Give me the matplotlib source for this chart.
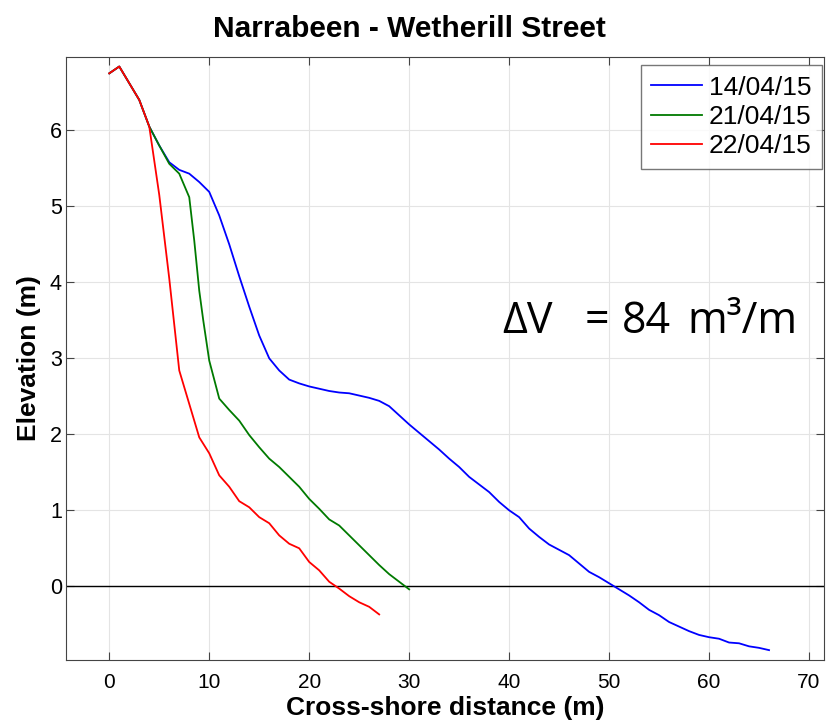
import matplotlib
matplotlib.use("Agg")
import matplotlib.pyplot as plt

# profile data (cross-shore distance m, elevation m)
x_140415 = [0, 1, 2, 3, 4, 5, 6, 7, 8, 9, 10, 11, 12, 13, 14, 15, 16, 17, 18, 19,
            20, 21, 22, 23, 24, 25, 26, 27, 28, 29, 30, 31, 32, 33, 34, 35, 36, 37,
            38, 39, 40, 41, 42, 43, 44, 45, 46, 47, 48, 49, 50, 51, 52, 53, 54, 55,
            56, 57, 58, 59, 60, 61, 62, 63, 64, 65, 66]
z_140415 = [6.75, 6.84, 6.62, 6.40, 6.05, 5.80, 5.58, 5.48, 5.43, 5.32, 5.19, 4.88,
            4.50, 4.08, 3.68, 3.30, 3.00, 2.84, 2.72, 2.67, 2.63, 2.60, 2.57, 2.55,
            2.54, 2.51, 2.48, 2.44, 2.37, 2.25, 2.13, 2.02, 1.91, 1.80, 1.68, 1.57,
            1.44, 1.34, 1.24, 1.11, 1.00, 0.91, 0.76, 0.65, 0.55, 0.48, 0.41, 0.30,
            0.19, 0.12, 0.04, -0.04, -0.12, -0.21, -0.31, -0.38, -0.47, -0.53, -0.59,
            -0.64, -0.67, -0.69, -0.74, -0.75, -0.79, -0.81, -0.84]

x_210415 = [0, 1, 2, 3, 4, 5, 6, 7, 8, 8.5, 9, 9.4, 10, 11, 12, 13, 14, 15, 16, 17,
            18, 19, 20, 21, 22, 23, 24, 25, 26, 27, 28, 29, 30]
z_210415 = [6.75, 6.84, 6.62, 6.40, 6.05, 5.80, 5.56, 5.43, 5.12, 4.55, 3.89, 3.50,
            2.97, 2.47, 2.32, 2.18, 1.99, 1.83, 1.68, 1.57, 1.44, 1.31, 1.15, 1.02,
            0.88, 0.80, 0.67, 0.54, 0.41, 0.28, 0.16, 0.06, -0.04]

x_220415 = [0, 1, 2, 3, 4, 5, 6, 7, 8, 9, 10, 11, 12, 13, 14, 15, 16, 17, 18, 19,
            20, 21, 22, 23, 24, 25, 26, 27]
z_220415 = [6.75, 6.84, 6.62, 6.40, 6.05, 5.15, 4.05, 2.84, 2.40, 1.96, 1.75, 1.46,
            1.31, 1.12, 1.04, 0.91, 0.83, 0.67, 0.56, 0.50, 0.32, 0.21, 0.06, -0.03,
            -0.13, -0.21, -0.27, -0.37]

labels = ["14/04/15", "21/04/15", "22/04/15"]
x_ticks = [0, 10, 20, 30, 40, 50, 60, 70]
y_ticks = [0, 1, 2, 3, 4, 5, 6]

# volume-change annotation, split in pieces to get the wide spacing of the original
dv_parts = ["\u0394V", "=", "84", "m\u00b3/m"]
dv_x = [39.3, 47.6, 51.3, 57.8]
dv_y = 3.33

plt.rcParams['font.family'] = ['Liberation Sans', 'DejaVu Sans']

fig = plt.figure(figsize=(8.27, 7.26), dpi=100)
ax = fig.add_axes([0.0798, 0.0909, 0.9166, 0.8311])

ax.plot(x_140415, z_140415, color='#0000ff', lw=1.3, label=labels[0])
ax.plot(x_210415, z_210415, color='#007a00', lw=1.3, label=labels[1])
ax.plot(x_220415, z_220415, color='#ff0000', lw=1.3, label=labels[2])
ax.axhline(0, color='black', lw=1.0, zorder=1)

ax.set_xlim(-4.33, 71.5)
ax.set_ylim(-0.97, 6.97)
ax.set_xticks(x_ticks)
ax.set_yticks(y_ticks)
ax.grid(True, color='#e4e4e4', lw=0.8)
ax.set_axisbelow(True)
ax.tick_params(direction='in', top=True, right=True, length=5.5, color='#444444')
ax.tick_params(axis='x', labelsize=15, pad=9)
ax.tick_params(axis='y', labelsize=15.5, pad=3)
for s in ax.spines.values():
    s.set_color('#444444')

fig.text(0.4946, 1 - 37 / 726, "Narrabeen - Wetherill Street", fontsize=21.5,
         fontweight='bold', ha='center', va='baseline')
ax.set_xlabel("Cross-shore distance (m)", fontsize=19, fontweight='bold', labelpad=3)
ax.set_ylabel("Elevation (m)", fontsize=19, fontweight='bold', labelpad=6)

leg = ax.legend(loc='upper right', fontsize=19, frameon=True, fancybox=False,
                bbox_to_anchor=(822 / 827, 1 - 65 / 726), bbox_transform=fig.transFigure,
                borderaxespad=0, handlelength=1.9, handletextpad=0.27,
                labelspacing=0.2, borderpad=0.4)
leg.get_frame().set_edgecolor('#555555')
leg.get_frame().set_linewidth(1.0)

for part, px in zip(dv_parts, dv_x):
    ax.text(px, dv_y, part, fontsize=31, family=['Open Sans', 'DejaVu Sans'],
            va='baseline', ha='left')

fig.savefig("out.png", dpi=100)
